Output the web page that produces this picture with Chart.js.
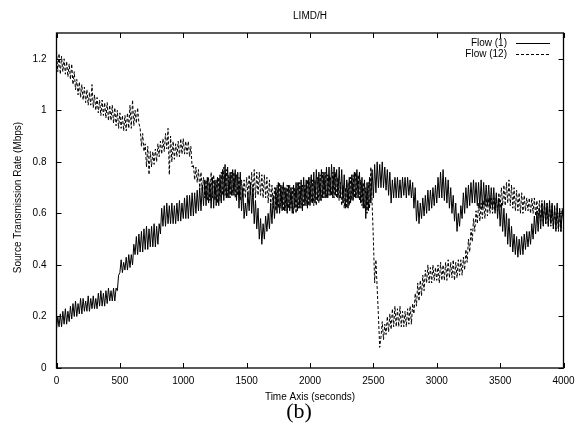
<!DOCTYPE html>
<html>
<head>
<meta charset="utf-8">
<script src="https://cdn.jsdelivr.net/npm/chart.js@4.4.1/dist/chart.umd.min.js"></script>
<style>
html,body{margin:0;padding:0;background:#fff;}
#wrap{width:575px;height:428px;position:relative;}
</style>
</head>
<body>
<div id="wrap"><canvas id="c" width="575" height="428"></canvas></div>
<script>
// ---- data ----
const chartTitle = "LIMD/H";
const xAxisTitle = "Time Axis (seconds)";
const yAxisTitle = "Source Transmission Rate (Mbps)";
const panelLabel = "(b)";
const seriesNames = ["Flow (1)", "Flow (12)"];
const xTickValues = [0,500,1000,1500,2000,2500,3000,3500,4000];
const yTickValues = [0,0.2,0.4,0.6,0.8,1,1.2];

const timeSeconds = [
0,10,20,30,40,50,60,70,80,90,100,110,120,130,140,150,160,170,180,190,
200,210,220,230,240,250,260,270,280,290,300,310,320,330,340,350,360,370,380,390,
400,410,420,430,440,450,460,470,480,490,500,510,520,530,540,550,560,570,580,590,
600,610,620,630,640,650,660,670,680,690,700,710,720,730,740,750,760,770,780,790,
800,810,820,830,840,850,860,870,880,890,900,910,920,930,940,950,960,970,980,990,
1000,1010,1020,1030,1040,1050,1060,1070,1080,1090,1100,1110,1120,1130,1140,1150,1160,1170,1180,1190,
1200,1210,1220,1230,1240,1250,1260,1270,1280,1290,1300,1310,1320,1330,1340,1350,1360,1370,1380,1390,
1400,1410,1420,1430,1440,1450,1460,1470,1480,1490,1500,1510,1520,1530,1540,1550,1560,1570,1580,1590,
1600,1610,1620,1630,1640,1650,1660,1670,1680,1690,1700,1710,1720,1730,1740,1750,1760,1770,1780,1790,
1800,1810,1820,1830,1840,1850,1860,1870,1880,1890,1900,1910,1920,1930,1940,1950,1960,1970,1980,1990,
2000,2010,2020,2030,2040,2050,2060,2070,2080,2090,2100,2110,2120,2130,2140,2150,2160,2170,2180,2190,
2200,2210,2220,2230,2240,2250,2260,2270,2280,2290,2300,2310,2320,2330,2340,2350,2360,2370,2380,2390,
2400,2410,2420,2430,2440,2450,2460,2470,2480,2490,2500,2510,2520,2530,2540,2550,2560,2570,2580,2590,
2600,2610,2620,2630,2640,2650,2660,2670,2680,2690,2700,2710,2720,2730,2740,2750,2760,2770,2780,2790,
2800,2810,2820,2830,2840,2850,2860,2870,2880,2890,2900,2910,2920,2930,2940,2950,2960,2970,2980,2990,
3000,3010,3020,3030,3040,3050,3060,3070,3080,3090,3100,3110,3120,3130,3140,3150,3160,3170,3180,3190,
3200,3210,3220,3230,3240,3250,3260,3270,3280,3290,3300,3310,3320,3330,3340,3350,3360,3370,3380,3390,
3400,3410,3420,3430,3440,3450,3460,3470,3480,3490,3500,3510,3520,3530,3540,3550,3560,3570,3580,3590,
3600,3610,3620,3630,3640,3650,3660,3670,3680,3690,3700,3710,3720,3730,3740,3750,3760,3770,3780,3790,
3800,3810,3820,3830,3840,3850,3860,3870,3880,3890,3900,3910,3920,3930,3940,3950,3960,3970,3980,3990,
4000];

const flow1 = [
0.15,0.20,0.16,0.21,0.16,0.22,0.17,0.23,0.17,0.22,0.18,0.24,0.19,0.25,0.20,0.26,0.20,0.25,0.21,0.27,
0.21,0.27,0.22,0.26,0.22,0.28,0.22,0.27,0.23,0.28,0.23,0.27,0.23,0.29,0.24,0.30,0.24,0.29,0.24,0.30,
0.25,0.31,0.26,0.30,0.26,0.31,0.26,0.31,0.30,0.36,0.37,0.42,0.37,0.41,0.38,0.43,0.38,0.44,0.39,0.44,
0.40,0.48,0.44,0.51,0.44,0.52,0.45,0.53,0.45,0.54,0.46,0.55,0.46,0.54,0.47,0.55,0.47,0.56,0.47,0.55,
0.48,0.56,0.52,0.62,0.55,0.63,0.55,0.64,0.56,0.63,0.56,0.64,0.56,0.63,0.56,0.64,0.57,0.65,0.57,0.64,
0.58,0.66,0.58,0.67,0.58,0.67,0.59,0.68,0.59,0.68,0.60,0.69,0.61,0.70,0.61,0.71,0.63,0.73,0.63,0.74,
0.64,0.72,0.62,0.74,0.62,0.73,0.63,0.74,0.63,0.75,0.64,0.77,0.65,0.79,0.66,0.78,0.66,0.76,0.67,0.77,
0.67,0.77,0.65,0.76,0.62,0.76,0.61,0.70,0.58,0.64,0.59,0.68,0.61,0.72,0.60,0.70,0.56,0.65,0.54,0.62,
0.50,0.58,0.48,0.56,0.50,0.59,0.53,0.60,0.54,0.64,0.56,0.67,0.58,0.70,0.60,0.72,0.60,0.71,0.61,0.72,
0.61,0.70,0.60,0.71,0.61,0.70,0.60,0.71,0.62,0.72,0.61,0.72,0.62,0.73,0.61,0.74,0.63,0.73,0.62,0.74,
0.63,0.75,0.64,0.76,0.64,0.77,0.65,0.76,0.65,0.77,0.66,0.76,0.66,0.78,0.66,0.78,0.67,0.79,0.66,0.78,
0.67,0.77,0.66,0.78,0.66,0.77,0.64,0.75,0.62,0.73,0.62,0.74,0.64,0.75,0.65,0.76,0.66,0.77,0.66,0.76,
0.64,0.74,0.62,0.73,0.58,0.72,0.61,0.74,0.64,0.77,0.66,0.79,0.68,0.80,0.70,0.79,0.70,0.80,0.70,0.78,
0.69,0.77,0.67,0.76,0.64,0.73,0.66,0.74,0.66,0.74,0.66,0.73,0.66,0.74,0.67,0.74,0.66,0.74,0.67,0.73,
0.66,0.72,0.62,0.70,0.57,0.65,0.56,0.64,0.58,0.66,0.59,0.67,0.60,0.69,0.61,0.69,0.62,0.70,0.63,0.71,
0.64,0.74,0.66,0.76,0.66,0.77,0.65,0.74,0.64,0.73,0.62,0.70,0.60,0.67,0.57,0.64,0.53,0.60,0.55,0.63,
0.58,0.68,0.60,0.70,0.62,0.71,0.63,0.72,0.64,0.73,0.64,0.72,0.63,0.72,0.62,0.73,0.62,0.72,0.63,0.71,
0.63,0.71,0.62,0.70,0.62,0.70,0.60,0.68,0.58,0.66,0.55,0.64,0.53,0.62,0.51,0.60,0.48,0.58,0.47,0.55,
0.45,0.52,0.44,0.51,0.43,0.50,0.44,0.51,0.44,0.52,0.46,0.53,0.47,0.53,0.48,0.56,0.50,0.59,0.52,0.61,
0.53,0.62,0.54,0.64,0.55,0.65,0.56,0.64,0.55,0.65,0.56,0.64,0.54,0.63,0.53,0.64,0.54,0.62,0.53,0.61,
0.58];

const flow12 = [
1.23,1.15,1.22,1.14,1.21,1.15,1.20,1.14,1.19,1.13,1.18,1.12,1.18,1.10,1.15,1.08,1.12,1.06,1.11,1.05,
1.10,1.04,1.09,1.03,1.08,1.02,1.07,1.02,1.10,1.01,1.06,1.00,1.05,0.99,1.04,0.98,1.04,0.98,1.03,0.97,
1.03,0.96,1.02,0.96,1.02,0.95,1.01,0.94,1.00,0.93,0.99,0.93,0.98,0.92,0.98,0.92,0.99,0.93,1.02,0.93,
1.04,0.94,1.00,0.95,1.01,0.95,0.93,0.86,0.91,0.84,0.87,0.78,0.86,0.75,0.84,0.78,0.84,0.79,0.85,0.80,
0.87,0.82,0.88,0.83,0.89,0.84,0.91,0.85,0.93,0.75,0.90,0.80,0.88,0.81,0.87,0.82,0.88,0.82,0.89,0.83,
0.89,0.83,0.88,0.83,0.88,0.82,0.86,0.78,0.79,0.73,0.78,0.72,0.77,0.70,0.76,0.69,0.74,0.66,0.73,0.65,
0.74,0.65,0.76,0.66,0.75,0.65,0.73,0.64,0.74,0.65,0.76,0.67,0.78,0.67,0.77,0.66,0.75,0.66,0.76,0.67,
0.76,0.66,0.75,0.67,0.74,0.65,0.73,0.66,0.73,0.66,0.74,0.67,0.75,0.67,0.76,0.66,0.77,0.66,0.76,0.67,
0.76,0.67,0.75,0.66,0.75,0.66,0.74,0.64,0.73,0.63,0.71,0.62,0.70,0.61,0.71,0.62,0.72,0.62,0.71,0.61,
0.70,0.61,0.71,0.62,0.71,0.62,0.70,0.60,0.70,0.60,0.72,0.62,0.72,0.62,0.71,0.63,0.71,0.63,0.73,0.63,
0.74,0.64,0.73,0.63,0.73,0.63,0.74,0.64,0.75,0.65,0.76,0.66,0.76,0.66,0.75,0.67,0.74,0.67,0.76,0.66,
0.76,0.66,0.74,0.65,0.72,0.63,0.71,0.62,0.70,0.62,0.72,0.63,0.74,0.65,0.75,0.66,0.76,0.66,0.75,0.65,
0.73,0.63,0.72,0.62,0.70,0.60,0.72,0.62,0.78,0.64,0.50,0.33,0.42,0.31,0.20,0.08,0.12,0.18,0.11,0.17,
0.13,0.20,0.14,0.21,0.15,0.23,0.16,0.24,0.16,0.23,0.16,0.24,0.16,0.22,0.16,0.22,0.16,0.23,0.17,0.24,
0.17,0.25,0.21,0.29,0.24,0.33,0.26,0.34,0.28,0.36,0.30,0.38,0.33,0.40,0.33,0.39,0.33,0.40,0.34,0.39,
0.34,0.40,0.33,0.41,0.34,0.40,0.34,0.41,0.34,0.42,0.35,0.41,0.35,0.42,0.34,0.41,0.35,0.42,0.36,0.42,
0.36,0.43,0.38,0.46,0.41,0.50,0.45,0.54,0.49,0.58,0.53,0.61,0.56,0.64,0.57,0.64,0.58,0.65,0.58,0.66,
0.59,0.66,0.60,0.66,0.60,0.66,0.61,0.67,0.61,0.68,0.62,0.70,0.63,0.71,0.63,0.72,0.64,0.73,0.63,0.71,
0.62,0.70,0.61,0.69,0.61,0.68,0.60,0.68,0.60,0.67,0.61,0.66,0.61,0.66,0.60,0.66,0.60,0.66,0.59,0.65,
0.58,0.65,0.57,0.65,0.56,0.64,0.56,0.64,0.55,0.63,0.55,0.63,0.54,0.62,0.54,0.62,0.53,0.61,0.53,0.62,
0.57];

// ---- build chart ----
const FONT = '"Liberation Sans", Arial, Helvetica, sans-serif';
function pts(vals){ return vals.map((v,i)=>({x:timeSeconds[i], y:v})); }

const framePlugin = {
  id:'frame',
  afterDraw(chart){
    const ctx = chart.ctx, a = chart.chartArea;
    const xs = chart.scales.x, ys = chart.scales.y;
    ctx.save();
    ctx.strokeStyle = '#000';
    ctx.lineWidth = 1.3;
    ctx.strokeRect(a.left, a.top, a.right - a.left, a.bottom - a.top);
    ctx.lineWidth = 1;
    const tl = 5;
    ctx.beginPath();
    xTickValues.forEach(v=>{
      const p = Math.round(xs.getPixelForValue(v)) + 0.5;
      ctx.moveTo(p, a.bottom); ctx.lineTo(p, a.bottom - tl);
      ctx.moveTo(p, a.top); ctx.lineTo(p, a.top + tl);
    });
    yTickValues.forEach(v=>{
      const p = Math.round(ys.getPixelForValue(v)) + 0.5;
      ctx.moveTo(a.left, p); ctx.lineTo(a.left + tl, p);
      ctx.moveTo(a.right, p); ctx.lineTo(a.right - tl, p);
    });
    ctx.stroke();

    // texts
    ctx.fillStyle = '#000';
    ctx.font = '10px ' + FONT;
    ctx.textAlign = 'center'; ctx.textBaseline = 'middle';
    ctx.fillText(chartTitle, (a.left + a.right)/2, 16);
    ctx.fillText(xAxisTitle, (a.left + a.right)/2, 397);
    ctx.save();
    ctx.translate(18, (a.top + a.bottom)/2 - 3);
    ctx.rotate(-Math.PI/2);
    ctx.fillText(yAxisTitle, 0, 0);
    ctx.restore();
    ctx.font = '22px "Liberation Serif", "Times New Roman", serif';
    ctx.fillText(panelLabel, (a.left + a.right)/2 - 11, 412);

    // legend
    ctx.font = '10px ' + FONT;
    ctx.textAlign = 'right';
    chart.data.datasets.forEach((ds,i)=>{
      const y = 43 + i*11;
      ctx.fillText(ds.label, 507, y);
      ctx.beginPath();
      ctx.setLineDash(ds.borderDash || []);
      ctx.lineWidth = 1;
      ctx.moveTo(516, Math.round(y)+0.5); ctx.lineTo(550, Math.round(y)+0.5);
      ctx.stroke();
    });
    ctx.setLineDash([]);
    ctx.restore();
  }
};

new Chart(document.getElementById('c'), {
  type:'line',
  data:{
    datasets:[
      {label:seriesNames[0], data:pts(flow1), borderColor:'#000', borderWidth:1, pointRadius:0, tension:0, fill:false},
      {label:seriesNames[1], data:pts(flow12), borderColor:'#000', borderWidth:1, borderDash:[3,2], pointRadius:0, tension:0, fill:false}
    ]
  },
  options:{
    responsive:false,
    animation:false,
    events:[],
    layout:{padding:{left:0,right:11.5,top:33,bottom:0}},
    plugins:{legend:{display:false}, title:{display:false}, tooltip:{enabled:false}},
    scales:{
      x:{
        type:'linear', min:0, max:4000,
        afterFit(s){ s.height = 60; s.paddingLeft = 0; s.paddingRight = 0; },
        grid:{display:false, drawTicks:false},
        border:{display:false},
        ticks:{padding:7, color:'#000', maxRotation:0, autoSkip:false,
               font:{family:FONT, size:10}, callback:(v)=>String(v)},
        afterBuildTicks(s){ s.ticks = xTickValues.map(v=>({value:v})); }
      },
      y:{
        type:'linear', min:0, max:1.3,
        afterFit(s){ s.width = 56.5; s.paddingTop = 0; s.paddingBottom = 0; },
        grid:{display:false, drawTicks:false},
        border:{display:false},
        ticks:{padding:10, color:'#000', font:{family:FONT, size:10},
               callback:(v)=>String(+v.toFixed(1))},
        afterBuildTicks(s){ s.ticks = yTickValues.map(v=>({value:v})); }
      }
    }
  },
  plugins:[framePlugin]
});
</script>
</body>
</html>
